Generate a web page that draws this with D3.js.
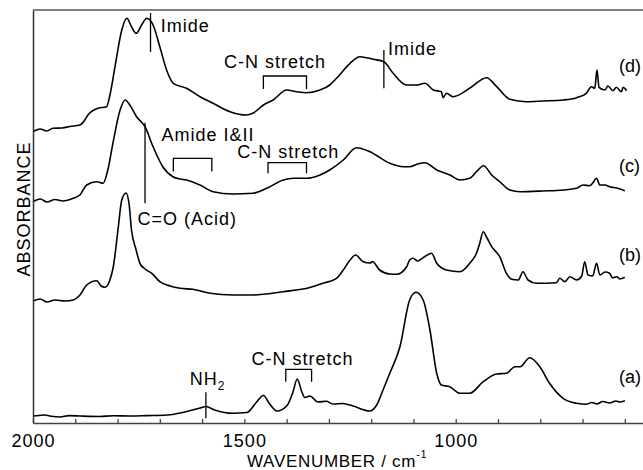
<!DOCTYPE html>
<html>
<head>
<meta charset="utf-8">
<script src="https://cdn.jsdelivr.net/npm/d3@7"></script>
<style>
	body { margin: 0; background: #fff; }
	text { font-family: "Liberation Sans", Arial, sans-serif; fill: #000; }
</style>
</head>
<body>
<div id="chart"></div>
<script>
// spectra as [wavenumber, absorbance above own baseline]
var spectrumA = [[2000,0.07],[1986,0.075],[1972,0.08],[1957,0.068],[1936,0.06],[1915,0.074],[1889,0.07],[1865,0.066],
	[1842,0.065],[1810,0.072],[1771,0.07],[1730,0.074],[1683,0.08],[1641,0.11],[1605,0.15],[1591,0.165],[1570,0.13],
	[1527,0.097],[1494,0.105],[1473,0.2],[1455,0.275],[1440,0.19],[1423,0.12],[1399,0.175],[1385,0.31],[1375,0.44],
	[1364,0.31],[1357,0.255],[1345,0.27],[1326,0.21],[1306,0.217],[1291,0.19],[1267,0.195],[1243,0.17],[1203,0.12],
	[1187,0.18],[1172,0.33],[1156,0.497],[1132,0.763],[1109,1.23],[1094,1.307],[1077,1.23],[1061,0.93],[1045,0.497],
	[1034,0.38],[1014,0.363],[990,0.297],[967,0.297],[935,0.413],[903,0.49],[880,0.497],[860,0.563],[848,0.563],
	[825,0.653],[801,0.563],[778,0.397],[746,0.247],[714,0.197],[691,0.187],[678,0.205],[666,0.19],[652,0.215],
	[636,0.2],[621,0.22],[612,0.21],[600,0.223]];

var spectrumB = [[2000,0.02],[1983,0.04],[1967,0.01],[1948,0.03],[1924,0.02],[1905,0.03],[1889,0.08],[1873,0.18],
	[1849,0.223],[1839,0.17],[1830,0.157],[1818,0.23],[1810,0.363],[1799,0.73],[1790,1.03],[1780,1.1],[1773,1.0],
	[1767,0.73],[1756,0.53],[1747,0.397],[1735,0.34],[1719,0.297],[1700,0.213],[1676,0.17],[1652,0.147],[1622,0.137],
	[1581,0.097],[1527,0.08],[1480,0.08],[1409,0.113],[1345,0.155],[1314,0.197],[1282,0.247],[1266,0.33],[1250,0.43],
	[1237,0.48],[1219,0.413],[1203,0.4],[1196,0.415],[1189,0.38],[1180,0.33],[1156,0.29],[1140,0.287],[1116,0.363],
	[1109,0.43],[1101,0.447],[1090,0.42],[1085,0.43],[1071,0.47],[1057,0.497],[1045,0.397],[1022,0.33],[990,0.313],
	[967,0.397],[951,0.497],[943,0.6],[935,0.713],[926,0.65],[915,0.563],[896,0.463],[880,0.297],[868,0.237],
	[852,0.23],[841,0.313],[829,0.23],[809,0.197],[762,0.203],[754,0.247],[742,0.213],[730,0.263],[714,0.23],
	[702,0.27],[695,0.413],[687,0.28],[676,0.27],[667,0.397],[659,0.28],[647,0.31],[636,0.297],[629,0.25],
	[619,0.263],[612,0.24],[600,0.257]];

var spectrumC = [[2000,0.013],[1983,0.04],[1967,0.01],[1948,0.035],[1929,0.02],[1905,0.047],[1889,0.08],[1873,0.18],
	[1849,0.213],[1834,0.197],[1823,0.33],[1811,0.597],[1794,0.93],[1782,1.03],[1771,0.98],[1755,0.863],[1735,0.763],
	[1716,0.563],[1693,0.363],[1669,0.263],[1652,0.24],[1637,0.23],[1605,0.18],[1574,0.113],[1527,0.09],[1480,0.097],
	[1447,0.147],[1408,0.23],[1384,0.247],[1353,0.247],[1321,0.28],[1298,0.33],[1266,0.43],[1235,0.553],[1203,0.513],
	[1156,0.397],[1124,0.363],[1109,0.363],[1090,0.39],[1073,0.403],[1045,0.33],[1014,0.28],[990,0.23],[967,0.247],
	[951,0.313],[934,0.373],[915,0.28],[896,0.213],[872,0.13],[848,0.113],[794,0.12],[746,0.13],[714,0.147],
	[699,0.18],[683,0.173],[676,0.2],[667,0.247],[659,0.18],[647,0.18],[636,0.163],[619,0.15],[600,0.123]];

var spectrumD = [[2000,0.013],[1983,0.04],[1967,0.02],[1953,0.047],[1931,0.05],[1913,0.065],[1889,0.08],[1879,0.12],
	[1870,0.18],[1846,0.247],[1826,0.263],[1818,0.38],[1806,0.663],[1790,1.03],[1778,1.147],[1767,1.063],[1756,0.997],
	[1743,1.08],[1731,1.147],[1716,1.08],[1700,0.863],[1684,0.63],[1668,0.497],[1637,0.447],[1605,0.363],[1574,0.297],
	[1534,0.213],[1495,0.18],[1480,0.197],[1455,0.28],[1432,0.33],[1400,0.43],[1376,0.413],[1353,0.403],[1321,0.43],
	[1298,0.48],[1282,0.547],[1250,0.697],[1227,0.763],[1195,0.737],[1170,0.713],[1148,0.597],[1116,0.48],[1093,0.48],
	[1073,0.497],[1053,0.43],[1034,0.413],[1030,0.353],[1022,0.397],[1006,0.363],[967,0.447],[927,0.553],[903,0.463],
	[872,0.337],[833,0.313],[793,0.32],[746,0.33],[714,0.353],[691,0.397],[679,0.463],[671,0.447],[666,0.63],
	[661,0.457],[647,0.43],[640,0.47],[628,0.423],[620,0.457],[608,0.413],[604,0.457],[596,0.423]];

var seriesNames = ["(a)", "(b)", "(c)", "(d)"];
var offsets = [0, 1.2, 2.2, 2.9];
var tickValues = [2000, 1900, 1800, 1700, 1600, 1500, 1400, 1300, 1200, 1100, 1000, 900, 800, 700, 600];
var tickLabels = [2000, 1500, 1000];

var width = 643;
var height = 470;

var x = d3.scaleLinear().domain([2000, 557]).range([33, 643]);
var y = d3.scaleLinear().domain([0, 4.13]).range([423, 10]);

var svg = d3.select('#chart')
	.append('svg')
	.attr('width', width)
	.attr('height', height);

var spectra = [spectrumA, spectrumB, spectrumC, spectrumD];

var line = d3.line()
	.x(function(d) { return x(d[0]); })
	.y(function(d) { return y(d[1]); })
	.curve(d3.curveMonotoneX);

spectra.forEach(function(s, i) {
	var shifted = s.map(function(p) { return [p[0], p[1] + offsets[i]]; });
	svg.append('path')
		.attr('d', line(shifted))
		.attr('fill', 'none')
		.attr('stroke', '#000')
		.attr('stroke-width', 1.6)
		.attr('stroke-linejoin', 'round');

	// series tag at right edge
	svg.append('text')
		.attr('x', x(614))
		.attr('y', y(offsets[i] + [0.405, 0.42, 0.31, 0.61][i]))
		.attr('font-size', 18)
		.text(seriesNames[i]);
});

// axes
var xAxis = d3.axisBottom(x)
	.tickValues(tickValues)
	.tickSize(-4)
	.tickSizeOuter(0)
	.tickPadding(11)
	.tickFormat(function(d) { return tickLabels.indexOf(d) >= 0 ? d : ''; });

var gx = svg.append('g')
	.attr('transform', 'translate(0,' + y(0) + ')')
	.call(xAxis);
gx.select('.domain').attr('stroke', '#444').attr('stroke-width', 1.5);
gx.selectAll('.tick line').attr('stroke', '#444').attr('stroke-width', 1.3);
gx.selectAll('.tick text')
	.attr('font-family', '"Liberation Sans", Arial, sans-serif')
	.attr('font-size', 18)
	.attr('letter-spacing', 1)
	.attr('fill', '#000');

var gy = svg.append('g')
	.attr('transform', 'translate(' + x(2000) + ',0)')
	.call(d3.axisLeft(y).tickValues([]).tickSizeOuter(0));
gy.select('.domain').attr('stroke', '#333').attr('stroke-width', 1.5);

// top frame
svg.append('line')
	.attr('x1', x(2000)).attr('x2', x(557))
	.attr('y1', y(4.13)).attr('y2', y(4.13))
	.attr('stroke', '#555')
	.attr('stroke-width', 1.3);

// axis titles
var xt = svg.append('text')
	.attr('x', 247)
	.attr('y', 467)
	.attr('font-size', 17)
	.attr('letter-spacing', 0.7)
	.text('WAVENUMBER / cm');
xt.append('tspan')
	.attr('dy', -9)
	.attr('font-size', 11)
	.text('-1');

svg.append('text')
	.attr('transform', 'translate(30,209) rotate(-90)')
	.attr('text-anchor', 'middle')
	.attr('font-size', 18)
	.attr('letter-spacing', 1)
	.text('ABSORBANCE');

// band annotations
var markLines = [[1722, 4.10, 3.71], [1170, 3.73, 3.347], [1735, 3.003, 2.197], [1591, 0.307, 0.047]];
var brackets = [[1455, 1353, 3.47, 3.34], [1668, 1577, 2.647, 2.515], [1444, 1353, 2.603, 2.497], [1402, 1341, 0.537, 0.413]];
var bandLabels = [
	{text: 'Imide', wn: 1698, v: 3.91},
	{text: 'C-N stretch', wn: 1548, v: 3.55},
	{text: 'Imide', wn: 1160, v: 3.68},
	{text: 'Amide I&II', wn: 1696, v: 2.82},
	{text: 'C-N stretch', wn: 1517, v: 2.65},
	{text: 'C=O (Acid)', wn: 1753, v: 1.98},
	{text: 'C-N stretch', wn: 1483, v: 0.58}
];

markLines.forEach(function(m) {
	svg.append('line')
		.attr('x1', x(m[0])).attr('x2', x(m[0]))
		.attr('y1', y(m[1])).attr('y2', y(m[2]))
		.attr('stroke', '#000')
		.attr('stroke-width', 1.3);
});

brackets.forEach(function(b) {
	var pts = [[b[0], b[3]], [b[0], b[2]], [b[1], b[2]], [b[1], b[3]]];
	svg.append('path')
		.attr('d', d3.line().x(function(d) { return x(d[0]); }).y(function(d) { return y(d[1]); })(pts))
		.attr('fill', 'none')
		.attr('stroke', '#000')
		.attr('stroke-width', 1.3);
});

bandLabels.forEach(function(l) {
	svg.append('text')
		.attr('x', x(l.wn))
		.attr('y', y(l.v))
		.attr('font-size', 18)
		.attr('letter-spacing', 1)
		.text(l.text);
});

var nh = svg.append('text')
	.attr('x', x(1629))
	.attr('y', y(0.38))
	.attr('font-size', 18)
	.attr('letter-spacing', 1)
	.text('NH');
nh.append('tspan')
	.attr('dy', 5)
	.attr('font-size', 12)
	.text('2');
</script>
</body>
</html>
